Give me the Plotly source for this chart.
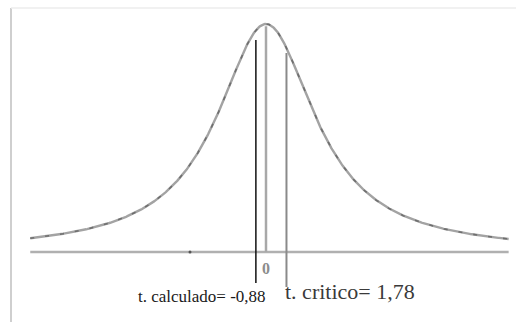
import numpy as np
import plotly.graph_objects as go

# Values shown on the chart
T_CALCULADO = -0.88
T_CRITICO = 1.78
CENTER = 0.0

LABEL_CALC = "t. calculado= -0,88"
LABEL_CRIT = "t. critico= 1,78"
LABEL_ZERO = "0"

# Bell curve: Student t with 1 degree of freedom, drawn with a wide scale
DF = 1
SCALE = 5.2
X_LEFT, X_RIGHT = -20.5, 21.1

W, H = 516, 322
PX_PER_UNIT = 11.5
X0_PX = 266          # horizontal position of t = 0
Y0_PX = 252          # baseline (density 0)
PEAK_PX = 228        # height of the peak above the baseline

SERIF = "'Liberation Serif', 'Times New Roman', Times, serif"

x = np.linspace(X_LEFT, X_RIGHT, 600)
dens = 1.0 / (np.pi * SCALE * (1.0 + (x / SCALE) ** 2))
peak = 1.0 / (np.pi * SCALE)


def ypx(py):
    """Convert a pixel row to the density axis."""
    return (Y0_PX - py) / PEAK_PX * peak


fig = go.Figure()

# baseline
fig.add_trace(go.Scatter(x=[X_LEFT, X_RIGHT], y=[0, 0], mode="lines",
                         line=dict(color="#b0b0b0", width=2.5), hoverinfo="skip"))
# curve: light body with darker dash texture
fig.add_trace(go.Scatter(x=x, y=dens, mode="lines",
                         line=dict(color="#a3a3a3", width=2.4), hoverinfo="skip"))
fig.add_trace(go.Scatter(x=x, y=dens, mode="lines",
                         line=dict(color="#6e6e6e", width=1.6, dash="4px,11px"),
                         hoverinfo="skip"))
# centre line at t = 0
fig.add_trace(go.Scatter(x=[CENTER, CENTER], y=[0, peak * 0.99], mode="lines",
                         line=dict(color="#a8a8a8", width=2.5), hoverinfo="skip"))
# t calculado
fig.add_trace(go.Scatter(x=[T_CALCULADO, T_CALCULADO], y=[ypx(283), ypx(40)],
                         mode="lines", line=dict(color="#111111", width=1.5),
                         hoverinfo="skip"))
# t critico
fig.add_trace(go.Scatter(x=[T_CRITICO, T_CRITICO], y=[ypx(287), ypx(53)],
                         mode="lines", line=dict(color="#8a8a8a", width=2),
                         hoverinfo="skip"))
# small mark on the baseline
fig.add_trace(go.Scatter(x=[(190 - X0_PX) / PX_PER_UNIT], y=[0], mode="markers",
                         marker=dict(color="#555555", size=3), hoverinfo="skip"))

annotations = [
    dict(x=CENTER, y=ypx(268), text="<b>" + LABEL_ZERO + "</b>", showarrow=False,
         xanchor="center", yanchor="middle",
         font=dict(family=SERIF, size=16, color="#8c8c8c")),
    dict(x=T_CALCULADO, y=ypx(296), text=LABEL_CALC, showarrow=False,
         xanchor="right", yanchor="middle", xshift=12,
         font=dict(family=SERIF, size=17, color="#1a1a1a")),
    dict(x=T_CRITICO, y=ypx(291), text=LABEL_CRIT, showarrow=False,
         xanchor="left", yanchor="middle", xshift=-3,
         font=dict(family=SERIF, size=22, color="#3a3a3a")),
]

shapes = [
    # frame: left edge and faint top edge
    dict(type="line", xref="paper", yref="paper", x0=11 / W, x1=11 / W,
         y0=0, y1=1 - 8 / H, line=dict(color="#cfcfcf", width=2)),
    dict(type="line", xref="paper", yref="paper", x0=11 / W, x1=1,
         y0=1 - 8 / H, y1=1 - 8 / H, line=dict(color="#ececec", width=1.5)),
]

fig.update_layout(
    width=W, height=H,
    margin=dict(l=0, r=0, t=0, b=0),
    paper_bgcolor="white", plot_bgcolor="white",
    showlegend=False,
    annotations=annotations,
    shapes=shapes,
    xaxis=dict(range=[(0 - X0_PX) / PX_PER_UNIT, (W - X0_PX) / PX_PER_UNIT],
               visible=False, fixedrange=True),
    yaxis=dict(range=[ypx(H), ypx(0)], visible=False, fixedrange=True),
)

fig.write_html("out.html")
